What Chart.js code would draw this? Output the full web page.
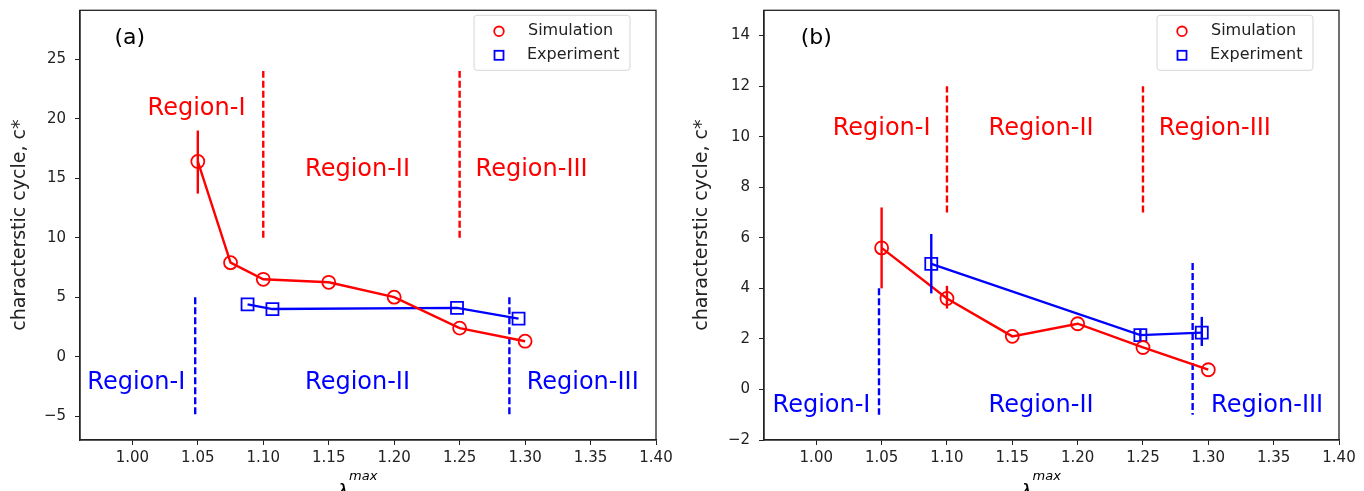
<!DOCTYPE html>
<html>
<head>
<meta charset="utf-8">
<script src="https://cdn.jsdelivr.net/npm/chart.js@4"></script>
<style>
    body { margin: 0; background: #fff; }
    .panel { position: absolute; top: 0; height: 491px; }
    #panelA { left: 0; width: 680px; }
    #panelB { left: 682px; width: 682px; }
</style>
</head>
<body>
<div class="panel" id="panelA"><canvas id="chartA"></canvas></div>
<div class="panel" id="panelB"><canvas id="chartB"></canvas></div>
<script>
// shared x axis
const lambdaTicks = [1.00, 1.05, 1.10, 1.15, 1.20, 1.25, 1.30, 1.35, 1.40];
const regionNames = ['Region-I', 'Region-II', 'Region-III'];

// panel (a)
const yTicksA = [-5, 0, 5, 10, 15, 20, 25];
const simXA = [1.05, 1.075, 1.10, 1.15, 1.20, 1.25, 1.30];
const simYA = [16.4, 7.9, 6.5, 6.25, 5.0, 2.4, 1.3];
const simLowA = [13.7, null, null, null, null, null, null];
const simHighA = [19.0, null, null, null, null, null, null];
const expXA = [1.088, 1.107, 1.248, 1.295];
const expYA = [4.4, 4.0, 4.1, 3.2];
const redDividerXA = [1.10, 1.25];
const redDividerYA = [10, 24];
const blueDividerXA = [1.048, 1.288];
const blueDividerYA = [-5, 5];
const redRegionXA = [1.049, 1.172, 1.305];
const redRegionYA = [20.8, 15.7, 15.7];
const blueRegionXA = [1.003, 1.172, 1.344];
const blueRegionYA = [-2.2, -2.2, -2.2];

// panel (b)
const yTicksB = [-2, 0, 2, 4, 6, 8, 10, 12, 14];
const simXB = [1.05, 1.10, 1.15, 1.20, 1.25, 1.30];
const simYB = [5.6, 3.6, 2.1, 2.6, 1.66, 0.78];
const simLowB = [4.0, 3.2, null, null, null, null];
const simHighB = [7.2, 4.1, null, null, null, null];
const expXB = [1.088, 1.248, 1.295];
const expYB = [4.97, 2.15, 2.25];
const expLowB = [3.8, 1.9, 1.72];
const expHighB = [6.15, 2.4, 2.87];
const redDividerXB = [1.10, 1.25];
const redDividerYB = [7, 12];
const blueDividerXB = [1.048, 1.288];
const blueDividerYB = [-1, 5];
const blueDividerStartB = [4, 5];
const redRegionXB = [1.050, 1.172, 1.305];
const redRegionYB = [10.3, 10.3, 10.3];
const blueRegionXB = [1.004, 1.172, 1.345];
const blueRegionYB = [-0.63, -0.63, -0.63];

const RED = '#ff0000';
const BLUE = '#0000ff';
const FONT = "'DejaVu Sans', sans-serif";

function points(xs, ys) {
    return xs.map((x, i) => ({ x: x, y: ys[i] }));
}

function divider(x, y0, y1, color) {
    return {
        data: [{ x: x, y: y0 }, { x: x, y: y1 }],
        showLine: true,
        borderColor: color,
        borderWidth: 2.4,
        borderDash: [7, 3],
        pointRadius: 0,
        order: 3
    };
}

const overlay = {
    id: 'overlay',
    afterDatasetsDraw(chart, args, opts) {
        const xs = chart.scales.x, ys = chart.scales.y;
        const ctx = chart.ctx;
        ctx.save();
        ctx.lineWidth = 2.4;
        opts.errors.forEach(e => {
            ctx.strokeStyle = e.color;
            e.xs.forEach((x, i) => {
                if (e.lows[i] == null) return;
                const px = xs.getPixelForValue(x);
                ctx.beginPath();
                ctx.moveTo(px, ys.getPixelForValue(e.lows[i]));
                ctx.lineTo(px, ys.getPixelForValue(e.highs[i]));
                ctx.stroke();
            });
        });
        ctx.restore();
    },
    afterDraw(chart, args, opts) {
        const xs = chart.scales.x, ys = chart.scales.y;
        const area = chart.chartArea;
        const ctx = chart.ctx;
        ctx.save();

        // frame
        ctx.strokeStyle = '#222';
        ctx.lineWidth = 1.3;
        ctx.strokeRect(area.left, area.top, area.right - area.left, area.bottom - area.top);

        // region labels
        ctx.font = '24px ' + FONT;
        ctx.textAlign = 'center';
        ctx.textBaseline = 'middle';
        opts.texts.forEach(t => {
            ctx.fillStyle = t.color;
            t.xs.forEach((x, i) => {
                ctx.fillText(regionNames[i], xs.getPixelForValue(x), ys.getPixelForValue(t.ys[i]));
            });
        });

        // panel tag
        ctx.fillStyle = '#000';
        ctx.font = '22px ' + FONT;
        ctx.fillText(opts.tag, xs.getPixelForValue(opts.tagPos[0]), ys.getPixelForValue(opts.tagPos[1]));

        // legend
        const lw = 156, lh = 55;
        const lx = area.right - 26 - lw, ly = area.top + 5;
        ctx.fillStyle = 'rgba(255,255,255,0.85)';
        ctx.strokeStyle = '#d6d6d6';
        ctx.lineWidth = 1;
        ctx.beginPath();
        ctx.roundRect(lx, ly, lw, lh, 3);
        ctx.fill();
        ctx.stroke();
        ctx.lineWidth = 1.8;
        ctx.strokeStyle = RED;
        ctx.beginPath();
        ctx.arc(lx + 25, ly + 16, 4.8, 0, Math.PI * 2);
        ctx.stroke();
        ctx.strokeStyle = BLUE;
        ctx.strokeRect(lx + 20.5, ly + 35.5, 9, 9);
        ctx.fillStyle = '#222';
        ctx.font = '16px ' + FONT;
        ctx.textAlign = 'left';
        ctx.fillText('Simulation', lx + 54, ly + 16);
        ctx.fillText('Experiment', lx + 53, ly + 40);

        // x axis title
        const cx = (area.left + area.right) / 2;
        ctx.fillStyle = '#000';
        ctx.textBaseline = 'alphabetic';
        ctx.font = 'italic 20px ' + FONT;
        ctx.fillText('λ', cx - 31, 498);
        ctx.font = 'italic 13px ' + FONT;
        ctx.fillText('max', cx - 19, 480);
        ctx.restore();
    }
};

function makeChart(id, cfg) {
    const datasets = [
        {
            label: 'Simulation',
            data: points(cfg.simX, cfg.simY),
            showLine: true,
            borderColor: RED,
            borderWidth: 2.4,
            pointStyle: 'circle',
            pointRadius: 6.5,
            pointBorderWidth: 1.8,
            pointBorderColor: RED,
            pointBackgroundColor: 'rgba(0,0,0,0)',
            order: 1
        },
        {
            label: 'Experiment',
            data: points(cfg.expX, cfg.expY),
            showLine: true,
            borderColor: BLUE,
            borderWidth: 2.4,
            pointStyle: 'rect',
            pointRadius: 8.5,
            pointBorderWidth: 1.8,
            pointBorderColor: BLUE,
            pointBackgroundColor: 'rgba(0,0,0,0)',
            order: 2
        }
    ];
    cfg.redX.forEach(x => datasets.push(divider(x, cfg.redY[0], cfg.redY[1], RED)));
    cfg.blueX.forEach((x, i) => datasets.push(divider(x, cfg.blueY0[i], cfg.blueY1, BLUE)));

    return new Chart(document.getElementById(id), {
        type: 'scatter',
        data: { datasets: datasets },
        plugins: [overlay],
        options: {
            responsive: true,
            maintainAspectRatio: false,
            animation: false,
            layout: { padding: { left: 0, right: cfg.padRight, top: 0, bottom: 0 } },
            plugins: {
                legend: { display: false },
                tooltip: { enabled: false },
                overlay: {
                    errors: cfg.errors,
                    texts: [
                        { color: RED, xs: cfg.redRegionX, ys: cfg.redRegionY },
                        { color: BLUE, xs: cfg.blueRegionX, ys: cfg.blueRegionY }
                    ],
                    tag: cfg.tag,
                    tagPos: cfg.tagPos
                }
            },
            scales: {
                x: {
                    type: 'linear',
                    min: 0.96,
                    max: 1.40,
                    afterBuildTicks: s => { s.ticks = lambdaTicks.map(v => ({ value: v })); },
                    afterFit: s => { s.height = 51; },
                    grid: { drawOnChartArea: false, drawTicks: true, tickLength: 5, color: '#222' },
                    border: { display: true, color: '#222', width: 1.3 },
                    ticks: {
                        autoSkip: false,
                        maxRotation: 0,
                        padding: 4,
                        color: '#222',
                        font: { family: FONT, size: 15 },
                        callback: v => v.toFixed(2)
                    }
                },
                y: {
                    type: 'linear',
                    min: cfg.yMin,
                    max: cfg.yMax,
                    afterBuildTicks: s => { s.ticks = cfg.yTicks.map(v => ({ value: v })); },
                    afterFit: s => { s.width = cfg.yWidth; s.paddingTop = 0; s.paddingBottom = 0; },
                    grid: { drawOnChartArea: false, drawTicks: true, tickLength: 5, color: '#222' },
                    border: { display: true, color: '#222', width: 1.3 },
                    ticks: {
                        autoSkip: false,
                        padding: 9,
                        color: '#222',
                        font: { family: FONT, size: 15 },
                        callback: v => (v < 0 ? '\u2212' + Math.abs(v) : String(v))
                    },
                    title: {
                        display: true,
                        text: 'characterstic cycle, c*',
                        color: '#222',
                        font: { family: FONT, size: 19 },
                        padding: { top: 9, bottom: 0 }
                    }
                }
            }
        }
    });
}

makeChart('chartA', {
    simX: simXA, simY: simYA, expX: expXA, expY: expYA,
    redX: redDividerXA, redY: redDividerYA,
    blueX: blueDividerXA, blueY0: [blueDividerYA[1], blueDividerYA[1]], blueY1: blueDividerYA[0],
    errors: [{ color: RED, xs: simXA, lows: simLowA, highs: simHighA }],
    redRegionX: redRegionXA, redRegionY: redRegionYA,
    blueRegionX: blueRegionXA, blueRegionY: blueRegionYA,
    tag: '(a)', tagPos: [0.998, 26.75],
    yMin: -7, yMax: 29.1, yTicks: yTicksA, yWidth: 80, padRight: 24
});

makeChart('chartB', {
    simX: simXB, simY: simYB, expX: expXB, expY: expYB,
    redX: redDividerXB, redY: redDividerYB,
    blueX: blueDividerXB, blueY0: blueDividerStartB, blueY1: blueDividerYB[0],
    errors: [
        { color: RED, xs: simXB, lows: simLowB, highs: simHighB },
        { color: BLUE, xs: expXB, lows: expLowB, highs: expHighB }
    ],
    redRegionX: redRegionXB, redRegionY: redRegionYB,
    blueRegionX: blueRegionXB, blueRegionY: blueRegionYB,
    tag: '(b)', tagPos: [1.0, 13.9],
    yMin: -2, yMax: 15, yTicks: yTicksB, yWidth: 82, padRight: 25
});
</script>
</body>
</html>
